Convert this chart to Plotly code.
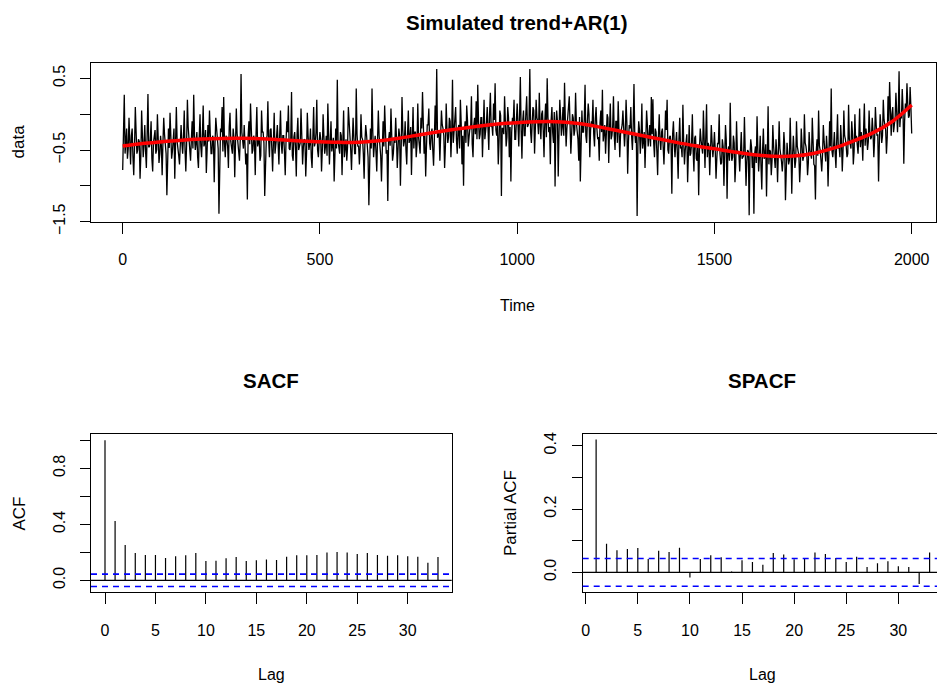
import plotly.graph_objects as go

W, H = 937, 687

# ---------------- data ----------------
# simulated series, values at t = 0, 4, 8, ..., 2000
series_a = [
    -0.78, 0.27, -0.30, -0.62, -0.05, -0.70, -0.20, -0.85, 0.10, -0.55, -0.35, -0.90, 0.05, -0.60, -0.15, -0.75, 0.28, -0.45, -0.10, -0.80, -0.25, -0.55, 0.00, -0.68, -0.30,
    -0.85, -0.05, -0.50, -1.13, -0.20, 0.02, -0.62, -0.30, -0.90, 0.10, -0.45, -0.70, -0.15, -0.55, 0.05, -0.80, 0.20, -0.40, -0.65, -0.10, 0.27, -0.50, -0.25, -0.75, 0.00,
    -0.60, 0.12, -0.40, -0.82, -0.15, 0.05, -0.55, -0.30, -0.95, -0.05, -0.45, -1.39, -0.20, 0.10, 0.24, -0.60, -0.35, -0.75, 0.02, -0.50, -0.20, -0.88, 0.08, -0.40, -0.65,
    0.56, -0.45, -0.15, -0.70, -1.19, -0.10, 0.15, -0.55, -0.30, -0.85, 0.10, -0.40, -0.65, 0.05, -0.25, -1.14, -0.35, 0.18, -0.60, -0.20, -0.80, 0.02, -0.45, -0.15, -0.70,
    0.05, -0.55, -0.30, -0.85, -0.10, 0.12, -0.50, 0.31, -0.65, -0.25, -0.87, -0.05, -0.45, 0.08, -0.70, -0.35, -0.87, 0.02, -0.50, -0.20, -0.75, 0.10, -0.40, 0.20, -0.60,
    -0.25, -0.80, 0.00, -0.55, -0.30, 0.15, -0.70, -0.10, -0.45, -0.94, -0.20, 0.48, -0.50, -0.25, -0.85, 0.05, -0.40, -0.65, 0.10, -0.30, -0.78, -0.05, -0.55, 0.36, -0.45,
    -0.70, 0.00, -0.35, -0.90, -0.15, -0.50, -1.27, -0.20, 0.36, -0.60, -0.30, -0.80, 0.05, -0.45, -0.94, -0.10, 0.12, -0.55, -1.21, -0.25, 0.08, -0.65, -0.35, -0.05, -0.75,
    -0.20, -1.00, 0.24, -0.45, -0.10, -0.70, 0.05, -0.35, -0.85, 0.10, -0.25, -0.60, 0.15, -0.40, -0.05, 0.31, -0.55, -0.87, -0.15, 0.08, -0.50, -0.20, -0.72, 0.12, 0.63,
    -0.30, -0.65, 0.05, -0.20, -0.75, 0.15, -0.40, -0.05, -0.60, 0.48, -0.25, 0.10, -0.55, -0.15, 0.20, -0.70, -1.00, -0.10, 0.12, -0.45, -0.20, 0.25, -0.60, -0.05, 0.18,
    0.41, -0.35, -0.05, -0.60, 0.20, -0.25, 0.10, -0.50, 0.30, -0.15, 0.15, 0.43, -0.30, -0.70, 0.05, -1.14, -0.20, 0.25, -0.45, 0.10, -0.60, -0.94, -0.05, 0.20, -0.35,
    0.15, -0.45, 0.52, -0.62, 0.05, -0.30, 0.25, -0.15, 0.63, -0.40, 0.10, -0.55, 0.20, -0.10, 0.30, -0.35, 0.05, -0.60, 0.15, 0.50, -0.25, -0.70, 0.10, -0.40, -1.01,
    0.05, -0.87, 0.20, -0.30, 0.10, 0.44, -0.45, -0.05, 0.25, -0.55, 0.00, -0.30, 0.30, -0.20, -0.65, -0.94, 0.05, -0.25, 0.41, -0.40, 0.15, -0.60, -0.10, 0.20, -0.45,
    0.10, -0.35, -0.65, 0.05, 0.34, -0.25, -0.55, 0.00, -0.68, 0.15, -0.30, 0.25, -0.50, -0.10, 0.18, -0.60, -0.20, 0.05, -0.45, 0.20, -0.83, -0.15, 0.10, -0.50, 0.42,
    -0.40, -1.42, -0.10, -0.55, 0.15, -0.30, -0.75, 0.05, -0.45, -0.15, 0.24, 0.21, -0.60, -0.25, -0.85, 0.00, -0.50, -0.20, -0.70, 0.05, 0.20, -0.55, -0.30, -1.11, -0.10,
    -0.60, -0.25, -0.90, -0.05, -0.45, 0.13, -0.70, -0.35, -0.95, -0.15, -0.55, 0.00, -0.80, -0.30, -0.65, -1.13, -0.20, -0.50, 0.05, -0.75, 0.14, -0.40, -0.85, -0.15, -0.60,
    -0.25, -0.90, -0.40, 0.00, -0.70, -0.35, -1.00, -0.15, -1.18, -0.45, 0.16, -0.65, -0.30, -0.95, -0.10, -0.55, -0.80, -0.25, -0.60, -0.04, -1.00, -0.50, -1.41, -0.35, -0.75,
    -1.39, -0.45, -0.03, -0.80, -0.30, -1.05, -0.20, -0.60, -1.15, 0.11, -0.50, -0.85, -0.15, -0.65, -0.35, -0.95, -0.10, -0.55, -0.80, -0.25, -1.20, -0.40, -0.70, -0.05, -1.11,
    -0.30, -0.75, -0.10, -0.55, -0.95, -0.20, -0.65, 0.00, -0.45, -0.85, -0.25, -0.60, -0.05, -0.70, -1.19, -0.35, 0.05, -0.50, -0.80, -0.15, -0.55, -0.30, -1.01, -0.10, 0.36,
    -0.60, -0.25, -0.75, 0.00, -0.45, -0.15, -0.80, 0.05, -0.35, -0.60, 0.13, -0.40, -0.10, -0.70, 0.00, -0.30, -0.55, 0.08, -0.25, -0.65, 0.15, -0.20, -0.50, 0.05, -0.35,
    -0.05, -0.60, 0.10, -0.30, -0.94, 0.00, -0.40, 0.20, -0.20, -0.55, 0.25, 0.45, -0.30, 0.10, -0.15, 0.30, -0.25, 0.60, 0.00, 0.35, -0.69, 0.15, 0.43, -0.05, 0.38,
    -0.27,
]
# simulated series, values at t = 2, 6, 10, ..., 1998
series_b = [
    -0.35, -0.55, -0.20, -0.48, -0.40, -0.30, -0.60, -0.45, -0.25, -0.50, -0.38, -0.58, -0.30, -0.42, -0.52, -0.28, -0.46, -0.35, -0.62, -0.40, -0.22, -0.50, -0.36, -0.55, -0.44,
    -0.40, -0.28, -0.55, -0.35, -0.47, -0.30, -0.52, -0.20, -0.45, -0.38, -0.58, -0.25, -0.40, -0.33, -0.50, -0.42, -0.18, -0.55, -0.36, -0.48, -0.30, -0.40, -0.60, -0.32, -0.45,
    -0.30, -0.45, -0.22, -0.50, -0.38, -0.28, -0.55, -0.35, -0.42, -0.20, -0.48, -0.36, -0.25, -0.52, -0.40, -0.30, -0.45, -0.18, -0.38, -0.55, -0.33, -0.42, -0.27, -0.50, -0.35,
    -0.25, -0.48, -0.35, -0.55, -0.30, -0.42, -0.20, -0.50, -0.38, -0.28, -0.45, -0.33, -0.58, -0.25, -0.40, -0.50, -0.30, -0.36, -0.22, -0.48, -0.40, -0.55, -0.32, -0.44, -0.28,
    -0.42, -0.30, -0.52, -0.38, -0.25, -0.48, -0.35, -0.58, -0.32, -0.45, -0.28, -0.50, -0.40, -0.22, -0.46, -0.36, -0.55, -0.30, -0.42, -0.60, -0.33, -0.45, -0.26, -0.50, -0.38,
    -0.35, -0.50, -0.30, -0.45, -0.58, -0.28, -0.40, -0.52, -0.33, -0.25, -0.48, -0.38, -0.55, -0.30, -0.42, -0.60, -0.35, -0.46, -0.22, -0.50, -0.40, -0.32, -0.55, -0.28, -0.44,
    -0.45, -0.32, -0.55, -0.40, -0.28, -0.60, -0.38, -0.48, -0.25, -0.42, -0.52, -0.35, -0.30, -0.58, -0.40, -0.45, -0.22, -0.50, -0.36, -0.44, -0.30, -0.55, -0.40, -0.33, -0.48,
    -0.30, -0.45, -0.22, -0.38, -0.50, -0.28, -0.40, -0.18, -0.35, -0.48, -0.25, -0.42, -0.32, -0.55, -0.20, -0.38, -0.30, -0.45, -0.15, -0.40, -0.28, -0.50, -0.35, -0.22, -0.33,
    -0.25, -0.38, -0.15, -0.30, -0.45, -0.20, -0.32, -0.10, -0.28, -0.40, -0.18, -0.35, -0.22, -0.48, -0.12, -0.30, -0.25, -0.40, -0.08, -0.32, -0.20, -0.42, -0.15, -0.28, -0.35,
    -0.10, -0.28, -0.05, -0.20, -0.35, -0.12, -0.25, 0.00, -0.18, -0.30, -0.08, -0.22, -0.15, -0.38, -0.02, -0.20, -0.28, -0.10, -0.32, -0.05, -0.18, -0.25, -0.12, -0.35, -0.08,
    -0.15, -0.02, -0.22, -0.10, -0.30, 0.02, -0.18, -0.08, -0.25, -0.12, 0.05, -0.20, -0.05, -0.28, -0.14, 0.00, -0.22, -0.10, -0.32, -0.04, -0.18, -0.08, -0.26, 0.03, -0.15,
    -0.10, -0.25, -0.02, -0.18, -0.30, -0.08, -0.20, 0.02, -0.15, -0.28, -0.05, -0.22, -0.12, -0.35, -0.04, -0.18, -0.25, -0.08, -0.30, -0.10, 0.00, -0.22, -0.15, -0.28, -0.06,
    -0.20, -0.32, -0.12, -0.25, -0.38, -0.15, -0.28, -0.05, -0.22, -0.35, -0.18, -0.30, -0.10, -0.40, -0.22, -0.28, -0.15, -0.35, -0.25, -0.12, -0.38, -0.20, -0.30, -0.18, -0.26,
    -0.30, -0.42, -0.22, -0.35, -0.48, -0.25, -0.38, -0.15, -0.32, -0.45, -0.28, -0.40, -0.20, -0.52, -0.30, -0.36, -0.25, -0.45, -0.38, -0.22, -0.50, -0.32, -0.42, -0.28, -0.40,
    -0.40, -0.55, -0.35, -0.48, -0.60, -0.38, -0.50, -0.28, -0.45, -0.58, -0.40, -0.52, -0.33, -0.62, -0.42, -0.48, -0.36, -0.55, -0.50, -0.32, -0.60, -0.44, -0.52, -0.38, -0.46,
    -0.50, -0.62, -0.42, -0.55, -0.68, -0.45, -0.58, -0.36, -0.52, -0.65, -0.48, -0.60, -0.40, -0.70, -0.50, -0.56, -0.44, -0.62, -0.58, -0.40, -0.66, -0.52, -0.60, -0.46, -0.55,
    -0.55, -0.68, -0.48, -0.60, -0.72, -0.50, -0.62, -0.42, -0.58, -0.70, -0.52, -0.65, -0.45, -0.75, -0.55, -0.60, -0.48, -0.66, -0.62, -0.44, -0.70, -0.56, -0.64, -0.50, -0.58,
    -0.52, -0.65, -0.45, -0.58, -0.70, -0.48, -0.60, -0.40, -0.55, -0.68, -0.50, -0.62, -0.42, -0.72, -0.52, -0.58, -0.44, -0.64, -0.56, -0.38, -0.66, -0.50, -0.58, -0.45, -0.52,
    -0.45, -0.55, -0.35, -0.48, -0.60, -0.38, -0.50, -0.30, -0.45, -0.55, -0.35, -0.48, -0.28, -0.52, -0.38, -0.42, -0.30, -0.46, -0.36, -0.22, -0.44, -0.30, -0.38, -0.25, -0.32,
    -0.25, -0.35, -0.15, -0.28, -0.40, -0.18, -0.30, -0.08, -0.22, -0.32, -0.10, -0.20, 0.00, -0.25, -0.05, -0.12, 0.02, -0.18, -0.06, 0.08, -0.10, 0.05, 0.15, -0.02, 0.10,
]

# fitted trend (red curve), every 50 time units
trend_time = list(range(0, 2001, 50))
trend_values = [
    -0.445, -0.410, -0.385, -0.362, -0.347, -0.338, -0.336, -0.343, -0.357, -0.373,
    -0.386, -0.393, -0.390, -0.372, -0.335, -0.290, -0.245, -0.205, -0.168, -0.138,
    -0.118, -0.105, -0.105, -0.128, -0.170, -0.225, -0.280, -0.335, -0.390, -0.440,
    -0.482, -0.528, -0.565, -0.588, -0.585, -0.548, -0.478, -0.380, -0.265, -0.105,
    0.128,
]

acf_lags = list(range(0, 34))
acf_values = [1.0, 0.424, 0.252, 0.195, 0.181, 0.181, 0.160, 0.171, 0.179, 0.195,
              0.138, 0.140, 0.157, 0.167, 0.138, 0.143, 0.148, 0.145, 0.169, 0.179,
              0.179, 0.181, 0.198, 0.202, 0.198, 0.188, 0.195, 0.181, 0.176, 0.179,
              0.171, 0.169, 0.126, 0.167]

pacf_lags = list(range(1, 34))
pacf_values = [0.420, 0.090, 0.070, 0.074, 0.077, 0.042, 0.068, 0.064, 0.078, -0.016,
               0.042, 0.054, 0.048, 0.003, 0.038, 0.033, 0.024, 0.061, 0.056, 0.041,
               0.042, 0.063, 0.058, 0.045, 0.033, 0.049, 0.017, 0.029, 0.035, 0.019,
               0.017, -0.037, 0.063]

conf_bound = 0.0438

main_title = "Simulated trend+AR(1)"

# ---------------- combine the two sampled halves in time order ----------------
series_time, series_values = [], []
for i, a in enumerate(series_a):
    series_time.append(4 * i)
    series_values.append(a)
    if i < len(series_b):
        series_time.append(4 * i + 2)
        series_values.append(series_b[i])

# ---------------- figure ----------------
FONT = "Liberation Sans, Arial, Helvetica, sans-serif"


def fx(px):
    return px / W


def fy(py):
    return 1 - py / H


def stems(lags, vals):
    xs, ys = [], []
    for l, v in zip(lags, vals):
        xs += [l, l, None]
        ys += [0, v, None]
    return xs, ys


fig = go.Figure()
fig.update_layout(template="none")

fig.add_trace(go.Scatter(x=series_time, y=series_values, mode="lines",
                         line=dict(color="black", width=1.3),
                         xaxis="x", yaxis="y", showlegend=False, hoverinfo="skip"))
fig.add_trace(go.Scatter(x=trend_time, y=trend_values, mode="lines",
                         line=dict(color="#FF0000", width=3.5, shape="spline"),
                         xaxis="x", yaxis="y", showlegend=False))

ax, ay = stems(acf_lags, acf_values)
fig.add_trace(go.Scatter(x=ax, y=ay, mode="lines", line=dict(color="black", width=1.2),
                         xaxis="x2", yaxis="y2", showlegend=False))
px_, py_ = stems(pacf_lags, pacf_values)
fig.add_trace(go.Scatter(x=px_, y=py_, mode="lines", line=dict(color="black", width=1.2),
                         xaxis="x3", yaxis="y3", showlegend=False))

# zero lines and confidence bands
for xr, yr in (("x2", "y2"), ("x3", "y3")):
    fig.add_shape(type="line", xref=f"{xr} domain", yref=yr, x0=0, x1=1, y0=0, y1=0,
                  line=dict(color="black", width=1.2))
    for b in (conf_bound, -conf_bound):
        fig.add_shape(type="line", xref=f"{xr} domain", yref=yr, x0=0, x1=1, y0=b, y1=b,
                      line=dict(color="#0000FF", width=1.6, dash="6px,5px"))

tickfont = dict(family=FONT, size=16, color="black")
common = dict(showline=True, linecolor="black", linewidth=1, ticks="outside",
              tickcolor="black", tickwidth=1, showgrid=False, zeroline=False,
              tickfont=tickfont, fixedrange=True, automargin=False)

fig.update_layout(
    xaxis=dict(domain=[fx(91), fx(936)], range=[-80.35, 2061.6], anchor="y",
               tickvals=[0, 500, 1000, 1500, 2000], ticklen=11, mirror=True,
               ticklabelstandoff=12, **common),
    yaxis=dict(domain=[fy(221.7), fy(63.3)], range=[-1.5, 0.71], anchor="x",
               tickvals=[-1.5, -1.0, -0.5, 0.0, 0.5],
               ticktext=["\u22121.5", "", "\u22120.5", "", "0.5"],
               tickangle=-90, ticklen=10, mirror=True, ticklabelstandoff=9, **common),
    xaxis2=dict(domain=[fx(91), fx(451.7)], range=[-1.387, 34.36], anchor="y2",
                tickvals=[0, 5, 10, 15, 20, 25, 30], ticklen=11, mirror=True,
                ticklabelstandoff=12, **common),
    yaxis2=dict(domain=[fy(592.3), fy(434)], range=[-0.0857, 1.045], anchor="x2",
                tickvals=[0, 0.2, 0.4, 0.6, 0.8, 1.0],
                ticktext=["0.0", "", "0.4", "", "0.8", ""],
                tickangle=-90, ticklen=10, mirror=True, ticklabelstandoff=9, **common),
    xaxis3=dict(domain=[fx(582.7), 1.0], range=[-0.288, 33.71], anchor="y3",
                tickvals=[0, 5, 10, 15, 20, 25, 30], ticklen=11, mirror=True,
                ticklabelstandoff=12, **common),
    yaxis3=dict(domain=[fy(592.3), fy(434)], range=[-0.063, 0.437], anchor="x3",
                tickvals=[0, 0.1, 0.2, 0.3, 0.4],
                ticktext=["0.0", "", "0.2", "", "0.4"],
                tickangle=-90, ticklen=10, mirror=False, ticklabelstandoff=9, **common),
)


def label(text, x, y, size=16, bold=False, angle=0):
    fig.add_annotation(text=f"<b>{text}</b>" if bold else text, x=fx(x), y=fy(y),
                       xref="paper", yref="paper", xanchor="center", yanchor="middle",
                       showarrow=False, textangle=angle,
                       font=dict(family=FONT, size=size, color="black"))


label(main_title, 517, 22, size=20.5, bold=True)
label("Time", 517, 305)
label("data", 18.5, 142, size=17, angle=-90)
label("SACF", 271, 380, size=20.5, bold=True)
label("ACF", 18.5, 514, size=17, angle=-90)
label("Lag", 271.5, 674)
label("SPACF", 762, 380, size=20.5, bold=True)
label("Partial ACF", 510, 513, size=17, angle=-90)
label("Lag", 762.5, 674)

fig.update_layout(width=W, height=H, margin=dict(l=0, r=0, t=0, b=0, pad=0),
                  paper_bgcolor="white", plot_bgcolor="white", showlegend=False,
                  hovermode=False)

fig.write_html(
    "out.html",
    config={"displayModeBar": False},
    post_script="document.body.style.margin='0px';document.body.style.padding='0px';"
                "document.documentElement.style.overflow='hidden';",
)
